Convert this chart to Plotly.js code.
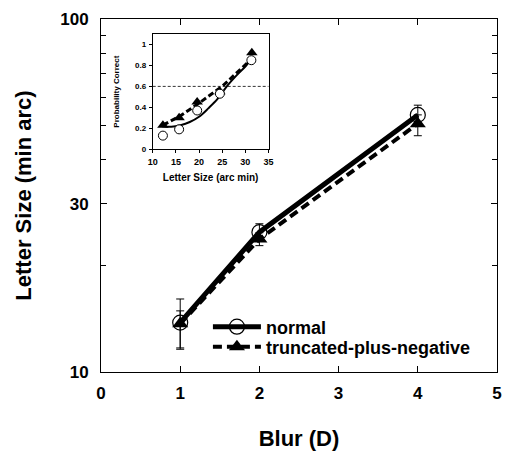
<!DOCTYPE html>
<html><head><meta charset="utf-8">
<script src="https://cdn.plot.ly/plotly-3.0.1.min.js"></script>
<style>html,body{margin:0;padding:0;background:#fff}</style>
</head><body>
<div id="chart" style="width:509px;height:458px"></div>
<script>
// Main chart data
const blur = [1, 2, 4];
const normalSize = [13.8, 24.9, 53.5];
const normalErrPlus = [2.3, 1.4, 3.5];
const normalErrMinus = [2.1, 1.3, 3.2];
const truncSize = [13.7, 23.8, 50.5];
const truncErrPlus = [1.2, 1.0, 3.0];
const truncErrMinus = [2.1, 1.0, 3.8];

// Inset data
const insetNormX = [12.2, 15.7, 19.6, 24.5, 31.3];
const insetNormY = [0.13, 0.19, 0.37, 0.53, 0.85];
const insetTruncX = [12.2, 15.7, 19.6, 24.5, 31.4];
const insetTruncY = [0.23, 0.30, 0.45, 0.55, 0.92];
const fitNormX = [12, 14, 16, 18, 20, 22, 24, 26, 28, 30, 31.3];
const fitNormY = [0.22, 0.215, 0.23, 0.26, 0.31, 0.39, 0.48, 0.60, 0.70, 0.79, 0.86];
const fitTruncX = [12.2, 16, 20, 25, 31.3];
const fitTruncY = [0.23, 0.32, 0.44, 0.60, 0.86];

const F = "Liberation Sans, Arial, Helvetica, sans-serif";

const traces = [
  {x: blur, y: truncSize, name: 'truncated-plus-negative', mode: 'lines+markers',
   line: {color: '#000', width: 4, dash: '9px,5px'},
   marker: {symbol: 'triangle-up', size: 14, color: '#000'},
   error_y: {type: 'data', array: truncErrPlus, arrayminus: truncErrMinus, color: '#000', thickness: 1, width: 4},
   legend: 'legend2'},
  {x: blur, y: normalSize, name: 'normal', mode: 'lines+markers',
   line: {color: '#000', width: 5},
   marker: {symbol: 'circle-open', size: 15, color: '#000', line: {width: 1.2}},
   error_y: {type: 'data', array: normalErrPlus, arrayminus: normalErrMinus, color: '#000', thickness: 1, width: 4},
   legend: 'legend'},
  {x: fitNormX, y: fitNormY, xaxis: 'x2', yaxis: 'y2', mode: 'lines', showlegend: false,
   line: {color: '#000', width: 2, shape: 'spline'}},
  {x: fitTruncX, y: fitTruncY, xaxis: 'x2', yaxis: 'y2', mode: 'lines', showlegend: false,
   line: {color: '#000', width: 3, dash: '6px,3px'}},
  {x: insetTruncX, y: insetTruncY, xaxis: 'x2', yaxis: 'y2', mode: 'markers', showlegend: false,
   marker: {symbol: 'triangle-up', size: 10, color: '#000'}},
  {x: insetNormX, y: insetNormY, xaxis: 'x2', yaxis: 'y2', mode: 'markers', showlegend: false,
   marker: {symbol: 'circle', size: 9, color: '#fff', line: {color: '#000', width: 1}}}
];

const legendBase = {xanchor: 'left', yanchor: 'middle', bgcolor: 'rgba(0,0,0,0)',
  font: {size: 18, weight: 'bold', family: F}, itemwidth: 48};

const layout = {
  width: 509, height: 458,
  margin: {l: 101, r: 12, t: 19, b: 86},
  paper_bgcolor: '#fff', plot_bgcolor: '#fff',
  font: {family: F, color: '#000'},
  showlegend: true,
  legend: Object.assign({}, legendBase, {x: 0.27, y: (372 - 327) / 353}),
  legend2: Object.assign({}, legendBase, {x: 0.27, y: (372 - 347) / 353}),
  xaxis: {range: [0, 5], dtick: 1, tick0: 0, showline: true, linecolor: '#000', linewidth: 1,
    mirror: 'ticks', ticks: 'inside', ticklen: 6, tickcolor: '#000', showgrid: false, zeroline: false,
    tickfont: {size: 17, weight: 'bold', family: F}, ticklabelstandoff: 6,
    title: {text: 'Blur (D)', font: {size: 22, weight: 'bold', family: F}, standoff: 28}},
  yaxis: {type: 'log', range: [1, 2], tickvals: [10, 30, 100], ticktext: ['10', '30', '100'],
    showline: true, linecolor: '#000', linewidth: 1, mirror: 'ticks', ticks: 'inside', ticklen: 6,
    tickcolor: '#000', showgrid: false, zeroline: false,
    minor: {tickvals: [20, 40, 50, 60, 70, 80, 90], ticks: 'inside', ticklen: 5, tickcolor: '#000', showgrid: false},
    tickfont: {size: 17, weight: 'bold', family: F}, ticklabelstandoff: 8,
    title: {text: 'Letter Size (min arc)', font: {size: 22, weight: 'bold', family: F}, standoff: 22}},
  xaxis2: {domain: [0.1306, 0.423], anchor: 'y2', range: [10, 35], dtick: 5, tick0: 10,
    showline: true, linecolor: '#000', linewidth: 1, mirror: true, ticks: 'outside', ticklen: 3,
    tickcolor: '#000', showgrid: false, zeroline: false,
    tickfont: {size: 9, weight: 'bold', family: F}, ticklabelstandoff: 1,
    title: {text: 'Letter Size (arc min)', font: {size: 10, weight: 'bold', family: F}, standoff: 7}},
  yaxis2: {domain: [0.631, 0.9575], anchor: 'x2', range: [0, 1.1], dtick: 0.2, tick0: 0,
    showline: true, linecolor: '#000', linewidth: 1, mirror: true, ticks: 'outside', ticklen: 3,
    tickcolor: '#000', showgrid: false, zeroline: false,
    tickfont: {size: 8, weight: 'bold', family: F}, ticklabelstandoff: 1,
    title: {text: 'Probability Correct', font: {size: 8, weight: 'bold', family: F}, standoff: 14}},
  shapes: [
    {type: 'line', xref: 'x2 domain', yref: 'y2', x0: 0, x1: 1, y0: 0.6, y1: 0.6,
     line: {color: '#000', width: 0.8, dash: '3px,2px'}}
  ]
};

Plotly.newPlot('chart', traces, layout, {displayModeBar: false, staticPlot: true});
</script>
</body></html>
